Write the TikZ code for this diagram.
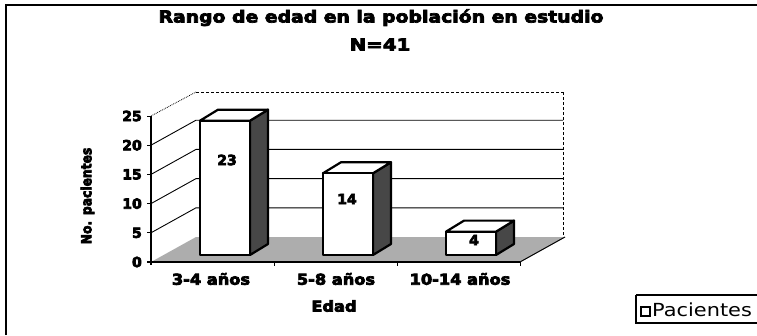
\documentclass[tikz,border=0pt]{standalone}
\usepackage{fontspec}
\setmainfont{DejaVu Sans}
\newcommand{\hsc}[2]{\scalebox{#1}[1]{#2}}
\newcommand{\heavy}[1]{\special{pdf:literal q 2 Tr 0.7 w 0 0 0 RG}#1\special{pdf:literal Q}}
\begin{document}
\begin{tikzpicture}[x=1pt,y=-1pt,
  ttl/.style={font=\bfseries\fontsize{16.5}{18}\selectfont, inner sep=0pt},
  tick/.style={font=\bfseries\fontsize{14}{14}\selectfont, inner sep=0pt, anchor=east},
  cat/.style={font=\bfseries\fontsize{15}{15}\selectfont, inner sep=0pt},
  val/.style={font=\bfseries\fontsize{14}{14}\selectfont, inner sep=0pt},
  grid/.style={line width=0.9pt, black},
  barfront/.style={draw=black, line width=2.2pt, fill=white, line join=round},
  barside/.style={draw=black, line width=2.2pt, fill=black!72, line join=round},
  bartop/.style={draw=black, line width=2.2pt, fill=white, line join=round},
  floorfill/.style={fill=black!32},
]
\useasboundingbox (0,0) rectangle (757,335);
\fill[white] (0,0) rectangle (757,335);
% outer frame
\draw[line width=1.4pt] (6,335) -- (6,5) -- (757,5);

% titles
\node[ttl, anchor=base] (title) at (381,22.5) {\heavy{\hsc{1.14}{Rango de edad en la población en estudio}}};
\node[ttl, anchor=base] (n) at (380,50.5) {\heavy{\hsc{1.2}{N=41}}};

% floor
\fill[floorfill] (151,262) -- (196,237) -- (565,237) -- (520,262) -- cycle;
\draw[line width=1pt] (520,262) -- (565,237);

% back wall edges
\draw[line width=0.8pt, densely dashed] (196,92) -- (563,92);
\draw[line width=0.8pt, densely dotted] (151,116) -- (196,92);
\draw[line width=0.8pt, densely dashed] (563,92) -- (563,237);

% gridlines (side wall + back wall)
\foreach \v in {5,10,15,20}{
  \draw[grid] (151,{262-5.84*\v}) -- (196,{237-5.84*\v}) -- (563,{237-5.84*\v});
}

% axes
\draw[line width=1.2pt] (151,116) -- (151,265);
\draw[line width=1.4pt] (147,262) -- (520,262);
\foreach \v in {0,5,...,25}{
  \draw[line width=1pt] (147,{262-5.84*\v}) -- (151,{262-5.84*\v});
}
\foreach \x in {274,397,520}{
  \draw[line width=1pt] (\x,262) -- (\x,266);
}

% tick labels
\node[tick] (t0) at (142,262) {\heavy{0}};
\node[tick] (t5) at (142,232.8) {\heavy{5}};
\node[tick] (t10) at (142,203.6) {\heavy{10}};
\node[tick] (t15) at (142,174.4) {\heavy{15}};
\node[tick] (t20) at (142,145.2) {\heavy{20}};
\node[tick] (t25) at (142,116) {\heavy{25}};

% bars
\foreach \xa/\v/\nm in {200/23/a,323/14/b,446/4/c}{
  \pgfmathsetmacro{\xb}{\xa+50}
  \pgfmathsetmacro{\yt}{255-5.84*\v}
  \filldraw[barside] (\xb,\yt) -- ({\xb+18},{\yt-11}) -- ({\xb+18},244) -- (\xb,255) -- cycle;
  \filldraw[bartop] (\xa,\yt) -- ({\xa+18},{\yt-11}) -- ({\xb+18},{\yt-11}) -- (\xb,\yt) -- cycle;
  \filldraw[barfront] (\xa,\yt) rectangle (\xb,255);
}

% value labels
\node[val] (v23) at (227,160) {\heavy{23}};
\node[val] (v14) at (347,199) {\heavy{14}};
\node[val] (v4) at (474,240) {\heavy{4}};

% category labels
\node[cat] (c1) at (211,279) {\heavy{\hsc{1.08}{3-4 años}}};
\node[cat] (c2) at (336,279) {\heavy{\hsc{1.08}{5-8 años}}};
\node[cat] (c3) at (460,279) {\heavy{\hsc{1.08}{10-14 años}}};

% axis titles
\node[cat] (xt) at (334,306) {\heavy{\hsc{1.08}{Edad}}};
\node[font=\bfseries\fontsize{14}{14}\selectfont, inner sep=0pt, rotate=90] (yt) at (87.5,196) {\heavy{\hsc{0.88}{No. pacientes}}};

% legend
\draw[line width=1.4pt] (636,295) -- (760,295) (636,295) -- (636,323) -- (760,323);
\draw[line width=1.4pt, fill=white] (641,307) rectangle (650,316);
\node[font=\fontsize{18}{18}\selectfont, inner sep=0pt, anchor=base west] (leg) at (652,316) {\hsc{1.16}{Pacientes}};
\end{tikzpicture}
\end{document}
